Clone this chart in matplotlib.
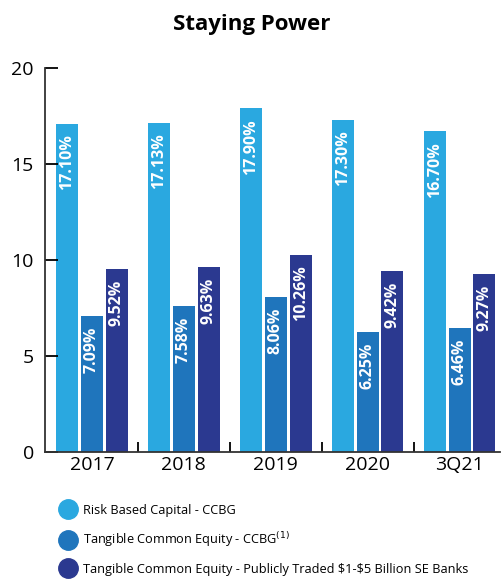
import matplotlib
matplotlib.use("Agg")
import matplotlib.pyplot as plt
import numpy as np
from matplotlib.lines import Line2D

plt.rcParams['font.family'] = ['Open Sans', 'DejaVu Sans']

categories = ["2017", "2018", "2019", "2020", "3Q21"]
risk_based = [17.10, 17.13, 17.90, 17.30, 16.70]
tce_ccbg = [7.09, 7.58, 8.06, 6.25, 6.46]
tce_peers = [9.52, 9.63, 10.26, 9.42, 9.27]
series_names = ["Risk Based Capital - CCBG",
                "Tangible Common Equity - CCBG$^{(1)}$",
                "Tangible Common Equity - Publicly Traded \\$1-\\$5 Billion SE Banks"]
colors = ["#2aa8e0", "#1f75bc", "#2b3990"]

fig = plt.figure(figsize=(5.03, 5.84), dpi=100)
ax = fig.add_axes([45/503, (584-452)/584, 455/503, (452-68)/584])

x = np.arange(len(categories))
w = 0.24
off = 0.27
for i, (vals, c) in enumerate(zip([risk_based, tce_ccbg, tce_peers], colors)):
    xs = x + (i - 1) * off
    ax.bar(xs, vals, width=w, color=c)
    for xi, v in zip(xs, vals):
        ax.text(xi, v - 0.55, f"{v:.2f}%", rotation=90, ha='center', va='top',
                color='white', fontsize=11.5, fontweight='bold')

ax.set_xlim(-0.51, 4.44)
ax.set_ylim(0, 20)
ax.set_yticks([0, 5, 10, 15, 20])
ax.set_yticklabels(["0", "5", "10", "15", "20"], fontsize=14)
ax.set_xticks(x)
ax.set_xticklabels(categories, fontsize=14)
ax.tick_params(axis='x', length=0, pad=3)
ax.tick_params(axis='y', direction='in', length=9, width=1.3, pad=8)
ax.set_xticks(x[:-1] + 0.5, minor=True)
ax.tick_params(axis='x', which='minor', direction='in', length=7, width=1.3)
for s in ['top', 'right']:
    ax.spines[s].set_visible(False)
for s in ['left', 'bottom']:
    ax.spines[s].set_linewidth(1.3)
    ax.spines[s].set_color('#333333')

fig.text(0.5, 0.958, "Staying Power", ha='center', va='center', fontsize=16, fontweight='bold')

handles = [Line2D([0], [0], marker='o', color='none', markerfacecolor=c, markeredgecolor=c,
                  markersize=14) for c in colors]
fig.legend(handles, series_names, loc='upper left', bbox_to_anchor=(0.11, 0.146),
           frameon=False, fontsize=9.2, handletextpad=0.6, labelspacing=1.05,
           handlelength=1.2, borderaxespad=0)

fig.savefig("out.png", dpi=100)
